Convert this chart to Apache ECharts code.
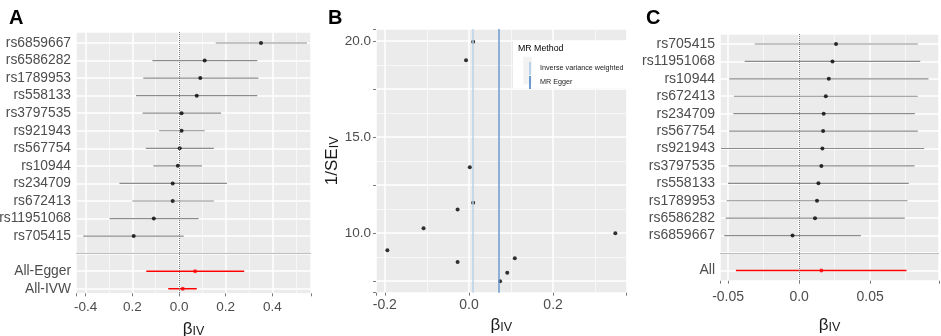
<!DOCTYPE html>
<html>
<head>
<meta charset="utf-8">
<script src="https://cdn.jsdelivr.net/npm/echarts@6/dist/echarts.min.js"></script>
<style>
html, body { margin: 0; padding: 0; background: #fff; }
#chart { width: 941px; height: 336px; }
</style>
</head>
<body>
<div id="chart"></div>
<script>
// panel A - single SNP estimates, MR-Egger and IVW
let snpA = ['rs6859667', 'rs6586282', 'rs1789953', 'rs558133', 'rs3797535', 'rs921943',
    'rs567754', 'rs10944', 'rs234709', 'rs672413', 'rs11951068', 'rs705415']
let betaA = [0.351, 0.110, 0.091, 0.076, 0.011, 0.011, 0.003, -0.005, -0.027, -0.027, -0.108, -0.194]
let loA = [0.157, -0.114, -0.153, -0.184, -0.156, -0.085, -0.142, -0.110, -0.255, -0.200, -0.297, -0.410]
let hiA = [0.547, 0.335, 0.340, 0.335, 0.180, 0.110, 0.149, 0.098, 0.205, 0.149, 0.084, 0.020]
let sumNameA = ['All-Egger', 'All-IVW']
let sumBetaA = [0.069, 0.016]
let sumLoA = [-0.140, -0.046]
let sumHiA = [0.279, 0.076]
let xTickValA = [-0.4, -0.2, 0, 0.2, 0.4]
let xTickTxtA = ['-0.4', '0.2', '0.0', '0.2', '0.4']

// panel B - funnel plot
let betaB = [0.010, -0.007, 0.002, 0.010, -0.027, -0.108, -0.194, -0.027, 0.074, 0.091, 0.109, 0.348]
let invSeB = [19.97, 19.01, 13.43, 11.59, 11.24, 10.26, 9.11, 8.50, 7.49, 7.94, 8.69, 9.99]
let methodB = ['Inverse variance weighted', 'MR Egger']
let methodBetaB = [0.0135, 0.068]
let xTickValB = [-0.2, 0, 0.2]
let xTickTxtB = ['-0.2', '0.0', '0.2']
let yTickValB = [10, 15, 20]
let yTickTxtB = ['10.0', '15.0', '20.0']

// panel C - leave-one-out
let snpC = ['rs705415', 'rs11951068', 'rs10944', 'rs672413', 'rs234709', 'rs567754',
    'rs921943', 'rs3797535', 'rs558133', 'rs1789953', 'rs6586282', 'rs6859667']
let betaC = [0.0260, 0.0235, 0.0209, 0.0188, 0.0173, 0.0169, 0.0164, 0.0157, 0.0136, 0.0126, 0.0112, -0.0046]
let loC = [-0.0313, -0.0383, -0.0492, -0.0459, -0.0463, -0.0492, -0.0550, -0.0496, -0.0501, -0.0510, -0.0517, -0.0527]
let hiC = [0.0836, 0.0853, 0.0911, 0.0836, 0.0815, 0.0836, 0.0881, 0.0813, 0.0772, 0.0763, 0.0744, 0.0435]
let sumNameC = ['All']
let sumBetaC = [0.0157]
let sumLoC = [-0.0445]
let sumHiC = [0.0756]
let xTickValC = [-0.05, 0, 0.05]
let xTickTxtC = ['-0.05', '0.0', '0.05']

const FONT = 'Liberation Sans'
const LABEL = '#4D4D4D'
const PANEL = '#EBEBEB'

// panel rectangles [left, top, width, height]
let gridA = [76, 32, 235, 261.3]
let gridB = [376, 29, 250.7, 263.7]
let gridC = [720, 34, 219, 246.7]

function tickText(vals, txts) {
    return function (v) {
        for (let i = 0; i < vals.length; i++) {
            if (Math.abs(v - vals[i]) < 1e-9) return txts[i]
        }
        return ''
    }
}

function rowText(names) {
    return function (v) {
        let i = Math.round(v)
        if (Math.abs(v - i) > 1e-6) return ''
        return names[i] || ''
    }
}

let betaRich = {
    b: {fontSize: 17, fontFamily: FONT, color: '#1a1a1a', lineHeight: 20, verticalAlign: 'bottom'},
    s: {fontSize: 12.5, fontFamily: FONT, color: '#1a1a1a', lineHeight: 13, verticalAlign: 'bottom'}
}

function gridOf(g) {
    return {left: g[0], top: g[1], width: g[2], height: g[3], show: false,
        containLabel: false, outerBoundsMode: 'none'}
}

function panelRect(g) {
    return {type: 'rect', z: -10, silent: true, shape: {x: g[0], y: g[1], width: g[2], height: g[3]},
        style: {fill: PANEL}}
}

function xAxisOf(idx, min, max, step, vals, txts, gap, size, margin) {
    return {
        type: 'value', gridIndex: idx, min: min, max: max,
        minInterval: step, maxInterval: step,
        axisLine: {show: false, onZero: false},
        axisTick: {show: true, length: 3, lineStyle: {color: '#555', width: 0.8}},
        axisLabel: {formatter: tickText(vals, txts), color: LABEL, fontSize: size, fontFamily: FONT, margin: margin},
        splitLine: {show: true, lineStyle: {color: '#fff', width: 1.5}},
        minorTick: {show: false, splitNumber: 2},
        minorSplitLine: {show: true, lineStyle: {color: '#fafafa', width: 0.8}},
        name: '{b|β}{s|IV}', nameLocation: 'middle', nameGap: gap,
        nameTextStyle: {rich: betaRich}
    }
}

function rowAxisOf(idx, min, max, names, size) {
    return {
        type: 'value', gridIndex: idx, inverse: true, min: min, max: max,
        minInterval: 1, maxInterval: 1,
        axisLine: {show: false, onZero: false},
        axisTick: {show: false},
        axisLabel: {formatter: rowText(names), color: LABEL, fontSize: size, fontFamily: FONT, margin: 5},
        splitLine: {show: true, lineStyle: {color: '#fff', width: 1.5}}
    }
}

function barSeries(idx, lo, hi, offset, color, width) {
    return {
        type: 'custom', xAxisIndex: idx, yAxisIndex: idx, z: 3,
        data: lo.map((l, i) => [l, hi[i], i + offset]),
        encode: {x: [0, 1], y: 2},
        renderItem: function (params, api) {
            let a = api.coord([api.value(0), api.value(2)])
            let b = api.coord([api.value(1), api.value(2)])
            return {type: 'line', shape: {x1: a[0], y1: a[1], x2: b[0], y2: b[1]},
                style: {stroke: color, lineWidth: width}}
        }
    }
}

function dotSeries(idx, data, color, size) {
    return {type: 'scatter', xAxisIndex: idx, yAxisIndex: idx, z: 4, data: data,
        symbolSize: size, itemStyle: {color: color}, silent: true}
}

function guideSeries(idx, sep) {
    let lines = [{xAxis: 0, lineStyle: {type: 'dotted', color: '#777', width: 1}}]
    if (sep !== null) lines.push({yAxis: sep, lineStyle: {type: 'solid', color: '#BEBEBE', width: 1}})
    return {
        type: 'scatter', xAxisIndex: idx, yAxisIndex: idx, data: [], z: 2,
        markLine: {silent: true, symbol: ['none', 'none'], label: {show: false}, data: lines, animation: false}
    }
}

let rowNamesA = snpA.concat([''], sumNameA)
let rowNamesC = snpC.concat([''], sumNameC)
let nA = snpA.length + 1
let nC = snpC.length + 1

let option = {
    animation: false,
    title: [
        {text: 'A', left: 4, top: 3, textStyle: {fontSize: 20, fontWeight: 'bold', fontFamily: FONT, color: '#000'}},
        {text: 'B', left: 323, top: 3, textStyle: {fontSize: 20, fontWeight: 'bold', fontFamily: FONT, color: '#000'}},
        {text: 'C', left: 641, top: 3, textStyle: {fontSize: 20, fontWeight: 'bold', fontFamily: FONT, color: '#000'}}
    ],
    grid: [gridOf(gridA), gridOf(gridB), gridOf(gridC)],
    xAxis: [
        xAxisOf(0, -0.441, 0.565, 0.2, xTickValA, xTickTxtA, 24.5, 13.5, 7),
        xAxisOf(1, -0.221, 0.375, 0.2, xTickValB, xTickTxtB, 19.5, 14, 5),
        xAxisOf(2, -0.0557, 0.0985, 0.05, xTickValC, xTickTxtC, 33.5, 14, 9)
    ],
    yAxis: [
        rowAxisOf(0, -0.627, 14.26, rowNamesA, 13.8),
        {
            type: 'value', gridIndex: 1, min: 6.90, max: 20.635,
            minInterval: 2.5, maxInterval: 2.5,
            axisLine: {show: false, onZero: false},
            axisTick: {show: true, length: 3, lineStyle: {color: '#555', width: 0.8}},
            axisLabel: {formatter: tickText(yTickValB, yTickTxtB), color: LABEL, fontSize: 13.5, fontFamily: FONT, margin: 5},
            splitLine: {show: true, lineStyle: {color: '#fff', width: 1.5}},
            minorTick: {show: false, splitNumber: 2},
            minorSplitLine: {show: true, lineStyle: {color: '#fafafa', width: 0.8}},
            name: '{b|1/SE}{s|IV}', nameLocation: 'middle', nameRotate: 90, nameGap: 29,
            nameTextStyle: {rich: betaRich}
        },
        rowAxisOf(2, -0.574, 13.59, rowNamesC, 14)
    ],
    legend: {
        data: methodB, orient: 'vertical', left: 524, top: 57,
        itemWidth: 2, itemHeight: 13, itemGap: 1, icon: 'rect', selectedMode: false, z: 6,
        textStyle: {fontSize: 7.2, fontFamily: FONT, color: '#1a1a1a', padding: [0, 0, 0, 4]}
    },
    graphic: [
        panelRect(gridA), panelRect(gridB), panelRect(gridC),
        {type: 'rect', z: 5, shape: {x: 513, y: 40.7, width: 114, height: 47.6}, style: {fill: '#fff'}},
        {type: 'rect', z: 5, shape: {x: 523.3, y: 56.7, width: 8.4, height: 27.6}, style: {fill: '#F2F2F2'}},
        {type: 'text', z: 6, x: 518, y: 48.5, style: {text: 'MR Method', fontSize: 8.8, fontFamily: FONT,
            fill: '#000', verticalAlign: 'middle'}}
    ],
    series: [
        guideSeries(0, 12),
        barSeries(0, loA, hiA, 0, '#8C8C8C', 1.2),
        dotSeries(0, betaA.map((b, i) => [b, i]), '#000', 4),
        barSeries(0, sumLoA, sumHiA, nA, '#FF0000', 1.5),
        dotSeries(0, sumBetaA.map((b, i) => [b, i + nA]), '#FF0000', 4),

        dotSeries(1, betaB.map((b, i) => [b, invSeB[i]]), '#000', 4),
        {
            name: methodB[0], type: 'line', xAxisIndex: 1, yAxisIndex: 1, data: [], z: 3,
            color: '#B9D3EA', itemStyle: {color: '#B9D3EA'}, lineStyle: {color: '#B9D3EA'},
            markLine: {silent: true, symbol: ['none', 'none'], label: {show: false}, animation: false,
                lineStyle: {type: 'solid', color: '#B9D3EA', width: 1.5}, data: [{xAxis: methodBetaB[0]}]}
        },
        {
            name: methodB[1], type: 'line', xAxisIndex: 1, yAxisIndex: 1, data: [], z: 3,
            color: '#6B9BD1', itemStyle: {color: '#6B9BD1'}, lineStyle: {color: '#6B9BD1'},
            markLine: {silent: true, symbol: ['none', 'none'], label: {show: false}, animation: false,
                lineStyle: {type: 'solid', color: '#6B9BD1', width: 1.5}, data: [{xAxis: methodBetaB[1]}]}
        },

        guideSeries(2, 12),
        barSeries(2, loC, hiC, 0, '#8C8C8C', 1.2),
        dotSeries(2, betaC.map((b, i) => [b, i]), '#000', 4),
        barSeries(2, sumLoC, sumHiC, nC, '#FF0000', 1.5),
        dotSeries(2, sumBetaC.map((b, i) => [b, i + nC]), '#FF0000', 4)
    ]
}

const dom = document.getElementById('chart')
const myChart = echarts.init(dom)
myChart.setOption(option, true)
</script>
</body>
</html>
